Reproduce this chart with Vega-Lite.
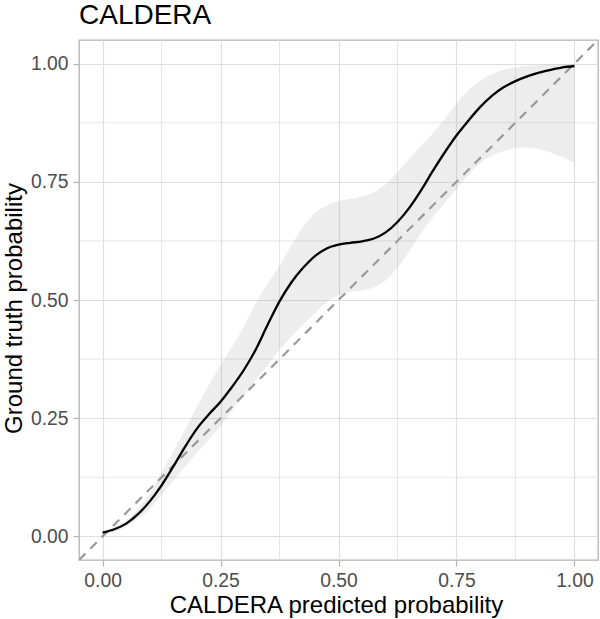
{
  "$schema": "https://vega.github.io/schema/vega-lite/v6.json",
  "width": 519,
  "height": 520,
  "autosize": {"type": "none"},
  "padding": {"left": 79, "top": 40, "right": 2, "bottom": 59},
  "background": "white",
  "title": {
    "text": "CALDERA",
    "anchor": "start",
    "frame": "group",
    "font": "Liberation Sans",
    "fontSize": 28,
    "fontWeight": "normal",
    "color": "black",
    "baseline": "alphabetic",
    "offset": -12
  },
  "config": {
    "view": {"stroke": "#B3B3B3", "strokeWidth": 1.3},
    "axis": {
      "domain": false,
      "grid": true,
      "gridColor": "#DEDEDE",
      "gridWidth": 1.2,
      "ticks": true,
      "tickColor": "#B3B3B3",
      "tickWidth": 1.2,
      "tickSize": 6,
      "labelPadding": 5,
      "labelFont": "Liberation Sans",
      "labelFontSize": 19.3,
      "labelColor": "#4D4D4D",
      "titleFont": "Liberation Sans",
      "titleFontSize": 24,
      "titleFontWeight": "normal",
      "titleColor": "black"
    }
  },
  "datasets": {
    "fit": [
      {"p": 0.0, "y": 0.008, "lo": 0.003, "hi": 0.013},
      {"p": 0.025, "y": 0.015, "lo": 0.010, "hi": 0.020},
      {"p": 0.05, "y": 0.027, "lo": 0.020, "hi": 0.034},
      {"p": 0.075, "y": 0.047, "lo": 0.037, "hi": 0.058},
      {"p": 0.1, "y": 0.074, "lo": 0.058, "hi": 0.090},
      {"p": 0.125, "y": 0.108, "lo": 0.088, "hi": 0.135},
      {"p": 0.15, "y": 0.148, "lo": 0.118, "hi": 0.180},
      {"p": 0.175, "y": 0.190, "lo": 0.148, "hi": 0.226},
      {"p": 0.2, "y": 0.228, "lo": 0.177, "hi": 0.274},
      {"p": 0.225, "y": 0.258, "lo": 0.205, "hi": 0.320},
      {"p": 0.25, "y": 0.285, "lo": 0.233, "hi": 0.362},
      {"p": 0.275, "y": 0.317, "lo": 0.268, "hi": 0.402},
      {"p": 0.3, "y": 0.353, "lo": 0.300, "hi": 0.445},
      {"p": 0.325, "y": 0.396, "lo": 0.332, "hi": 0.493},
      {"p": 0.35, "y": 0.448, "lo": 0.362, "hi": 0.535},
      {"p": 0.375, "y": 0.497, "lo": 0.395, "hi": 0.572},
      {"p": 0.4, "y": 0.537, "lo": 0.423, "hi": 0.615},
      {"p": 0.425, "y": 0.568, "lo": 0.448, "hi": 0.655},
      {"p": 0.45, "y": 0.593, "lo": 0.472, "hi": 0.684},
      {"p": 0.475, "y": 0.609, "lo": 0.495, "hi": 0.700},
      {"p": 0.5, "y": 0.617, "lo": 0.510, "hi": 0.709},
      {"p": 0.525, "y": 0.621, "lo": 0.517, "hi": 0.714},
      {"p": 0.55, "y": 0.624, "lo": 0.520, "hi": 0.719},
      {"p": 0.575, "y": 0.630, "lo": 0.527, "hi": 0.728},
      {"p": 0.6, "y": 0.643, "lo": 0.542, "hi": 0.745},
      {"p": 0.625, "y": 0.665, "lo": 0.568, "hi": 0.770},
      {"p": 0.65, "y": 0.695, "lo": 0.603, "hi": 0.799},
      {"p": 0.675, "y": 0.732, "lo": 0.641, "hi": 0.826},
      {"p": 0.7, "y": 0.773, "lo": 0.675, "hi": 0.852},
      {"p": 0.725, "y": 0.812, "lo": 0.705, "hi": 0.883},
      {"p": 0.75, "y": 0.848, "lo": 0.735, "hi": 0.915},
      {"p": 0.775, "y": 0.879, "lo": 0.764, "hi": 0.944},
      {"p": 0.8, "y": 0.908, "lo": 0.789, "hi": 0.964},
      {"p": 0.825, "y": 0.932, "lo": 0.805, "hi": 0.978},
      {"p": 0.85, "y": 0.950, "lo": 0.815, "hi": 0.987},
      {"p": 0.875, "y": 0.963, "lo": 0.821, "hi": 0.992},
      {"p": 0.9, "y": 0.973, "lo": 0.822, "hi": 0.995},
      {"p": 0.925, "y": 0.981, "lo": 0.819, "hi": 0.997},
      {"p": 0.95, "y": 0.987, "lo": 0.812, "hi": 0.998},
      {"p": 0.975, "y": 0.992, "lo": 0.802, "hi": 0.998},
      {"p": 1.0, "y": 0.995, "lo": 0.790, "hi": 0.999}
    ],
    "identity": [
      {"p": -0.05, "y": -0.05},
      {"p": 1.05, "y": 1.05}
    ],
    "minor": [
      {"v": 0.125},
      {"v": 0.375},
      {"v": 0.625},
      {"v": 0.875}
    ]
  },
  "layer": [
    {
      "data": {"name": "minor"},
      "mark": {"type": "rule", "color": "#DEDEDE", "strokeWidth": 0.8},
      "encoding": {
        "x": {"field": "v", "type": "quantitative", "scale": {"domain": [-0.05, 1.05], "nice": false, "zero": false}}
      }
    },
    {
      "data": {"name": "minor"},
      "mark": {"type": "rule", "color": "#DEDEDE", "strokeWidth": 0.8},
      "encoding": {
        "y": {"field": "v", "type": "quantitative", "scale": {"domain": [-0.05, 1.05], "nice": false, "zero": false}}
      }
    },
    {
      "data": {"name": "fit"},
      "mark": {"type": "area", "color": "#999999", "opacity": 0.18, "interpolate": "monotone"},
      "encoding": {
        "x": {"field": "p", "type": "quantitative"},
        "y": {"field": "lo", "type": "quantitative"},
        "y2": {"field": "hi"}
      }
    },
    {
      "data": {"name": "identity"},
      "mark": {"type": "line", "color": "#999999", "strokeWidth": 2.2, "strokeDash": [9, 7], "clip": true},
      "encoding": {
        "x": {"field": "p", "type": "quantitative"},
        "y": {"field": "y", "type": "quantitative"}
      }
    },
    {
      "data": {"name": "fit"},
      "mark": {"type": "line", "color": "black", "strokeWidth": 2.3, "interpolate": "monotone"},
      "encoding": {
        "x": {
          "field": "p",
          "type": "quantitative",
          "scale": {"domain": [-0.05, 1.05], "nice": false, "zero": false},
          "axis": {
            "title": "CALDERA predicted probability",
            "values": [0, 0.25, 0.5, 0.75, 1],
            "format": ".2f",
            "titleBaseline": "alphabetic",
            "titleX": 257,
            "titleY": 52
          }
        },
        "y": {
          "field": "y",
          "type": "quantitative",
          "scale": {"domain": [-0.05, 1.05], "nice": false, "zero": false},
          "axis": {
            "title": "Ground truth probability",
            "values": [0, 0.25, 0.5, 0.75, 1],
            "format": ".2f",
            "titleBaseline": "alphabetic",
            "titleX": -58,
            "titleY": 268
          }
        }
      }
    }
  ]
}
